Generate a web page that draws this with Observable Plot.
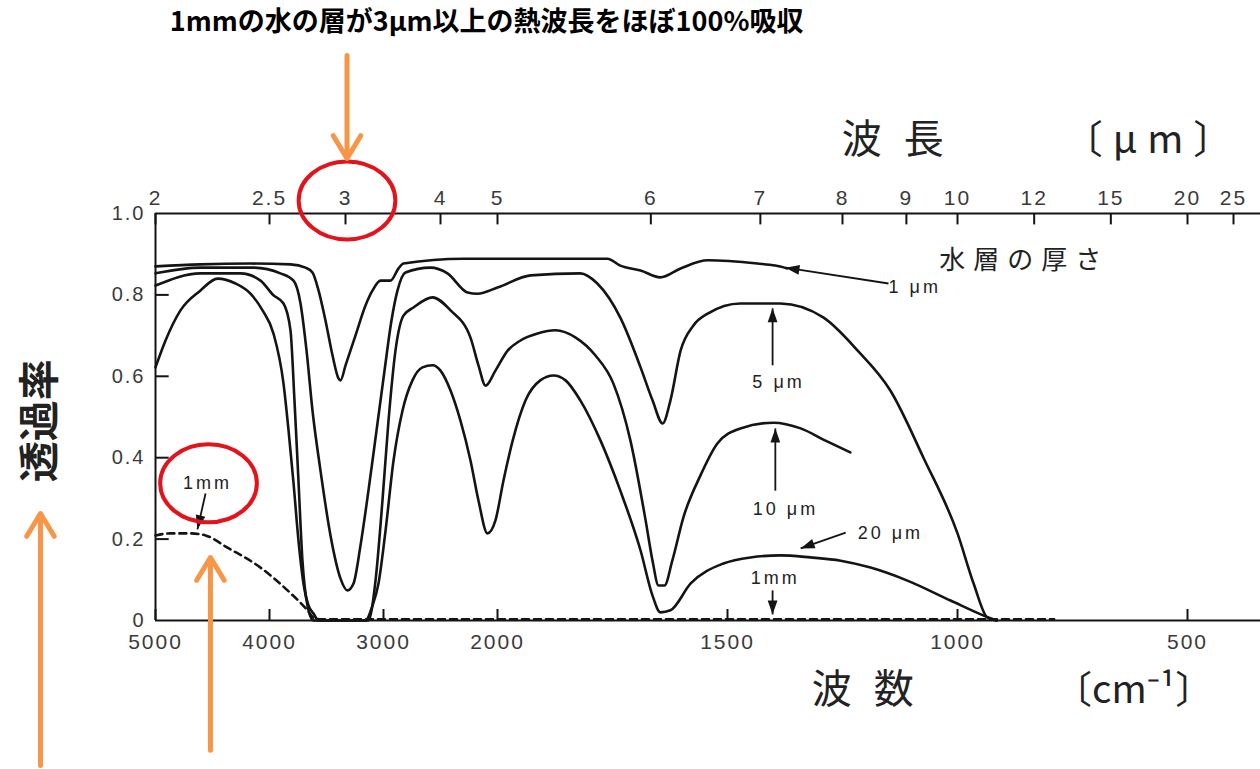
<!DOCTYPE html>
<html><head><meta charset="utf-8">
<script src="https://cdn.jsdelivr.net/npm/d3@7"></script>
<script src="https://cdn.jsdelivr.net/npm/@observablehq/plot@0.6"></script>
<style>
html,body{margin:0;padding:0;background:#fff;}
#chart svg{display:block;}
g[aria-label="x-axis tick label"] text, g[aria-label="y-axis tick label"] text{letter-spacing:2px;}
g[font-size="18"] text, g[font-size="18px"] text{letter-spacing:3px;}
g[font-size="26"] text, g[font-size="26px"] text{letter-spacing:8px;}
g[font-size="40"] text, g[font-size="40px"] text{letter-spacing:22px;}
g[font-size="39"] text, g[font-size="39px"] text{letter-spacing:10px;}
</style></head><body><div id="chart"></div>
<script>
// ---- tick values ----
const wnTicks = [5000, 4000, 3000, 2000, 1500, 1000, 500];          // 波数 cm-1
const umTicks = [2, 2.5, 3, 4, 5, 6, 7, 8, 9, 10, 12, 15, 20, 25];  // 波長 μm
const yTicks = [0, 0.2, 0.4, 0.6, 0.8, 1.0];

// ---- series (wavenumber cm-1, transmittance) ----
const wn1um = [5000,4605,4167,3816,3684,3623,3570,3509,3447,3395,3377,3333,3246,3158,3096,3026,2939,2868,2825,2298,1907,1761,1733,1689,1646,1602,1543,1435,1396,1370];
const t1um  = [0.870,0.875,0.877,0.875,0.867,0.855,0.811,0.737,0.651,0.595,0.590,0.627,0.700,0.774,0.811,0.835,0.835,0.865,0.877,0.889,0.889,0.889,0.872,0.860,0.843,0.865,0.885,0.877,0.872,0.865];

const wn5um = [5000,4605,4140,3904,3789,3728,3675,3623,3553,3465,3377,3316,3263,3202,3132,3061,2991,2930,2877,2807,2588,2439,2263,2175,2000,1928,1820,1783,1733,1689,1663,1641,1624,1602,1574,1543,1472,1385,1291,1217,1146,1074,1000,965,935,915];
const t5um  = [0.853,0.867,0.867,0.853,0.835,0.779,0.663,0.516,0.369,0.209,0.103,0.074,0.091,0.184,0.319,0.467,0.614,0.737,0.811,0.855,0.867,0.853,0.806,0.803,0.818,0.848,0.853,0.828,0.744,0.622,0.541,0.484,0.541,0.663,0.725,0.754,0.779,0.779,0.744,0.663,0.565,0.400,0.214,0.091,0.007,0];

const wn10um = [5000,4605,4254,4079,3965,3877,3816,3781,3746,3711,3667,3614,3132,3070,3009,2956,2895,2825,2737,2570,2412,2237,2167,2105,2018,1978,1950,1913,1874,1830,1787,1748,1711,1678,1663,1650,1637,1620,1596,1559,1522,1472,1400,1341,1287,1233];
const t10um  = [0.823,0.853,0.853,0.835,0.799,0.779,0.713,0.541,0.344,0.147,0.037,0,0,0.098,0.295,0.491,0.663,0.749,0.769,0.794,0.762,0.695,0.627,0.577,0.614,0.663,0.688,0.705,0.713,0.695,0.651,0.582,0.442,0.246,0.147,0.086,0.086,0.147,0.253,0.356,0.435,0.472,0.486,0.472,0.442,0.413];

const wn20um = [5000,4912,4781,4605,4456,4298,4167,4061,3965,3877,3833,3789,3746,3702,3658,3614,3570,3158,3096,3044,2982,2912,2833,2746,2658,2570,2500,2412,2325,2237,2167,2088,2018,1987,1967,1939,1907,1878,1852,1820,1776,1733,1689,1663,1646,1624,1580,1509,1450,1385,1320,1254,1189,1109,1015,943,915];
const t20um  = [0.622,0.688,0.762,0.811,0.840,0.828,0.803,0.762,0.705,0.582,0.467,0.337,0.197,0.091,0.037,0.017,0,0,0.037,0.091,0.221,0.393,0.516,0.590,0.622,0.627,0.614,0.565,0.491,0.393,0.295,0.214,0.246,0.344,0.442,0.541,0.590,0.602,0.590,0.541,0.442,0.319,0.172,0.061,0.020,0.025,0.091,0.140,0.155,0.160,0.155,0.147,0.130,0.098,0.049,0.012,0];

const wn1mm = [5000,4868,4693,4561,4368,4079,3842,3667,3614,3560,790];
const t1mm  = [0.209,0.214,0.214,0.209,0.179,0.130,0.074,0.025,0.007,0.003,0.003];

// ---- annotations ----
const noteText = ["1 μm", "5 μm", "10 μm", "20 μm", "1mm", "1mm"];
const noteX = [1093, 1389, 1374, 1146, 1396, 4544];
const noteY = [0.818, 0.585, 0.273, 0.214, 0.103, 0.337];
const ptrX1 = [1150, 1402, 1396, 1243, 1402, 4561];
const ptrY1 = [0.828, 0.627, 0.319, 0.216, 0.074, 0.312];
const ptrX2 = [1374, 1402, 1396, 1341, 1402, 4632];
const ptrY2 = [0.867, 0.767, 0.472, 0.177, 0.015, 0.224];
const ptrRot = [-81, 0, 0, -110, 180, -167];

const circleX = [3320, 4535];
const circleY = [1.032, 0.337];

const orangeX = [3320, 6009, 4518];
const orangeY1 = [1.388, -0.356, -0.319];
const orangeY2 = [1.135, 0.263, 0.155];

// ---- build tables ----
const toRows = (name, xs, ys) => xs.map((x, i) => ({series: name, wn: x, t: ys[i]}));
const solid = [
  ...toRows("1μm", wn1um, t1um),
  ...toRows("5μm", wn5um, t5um),
  ...toRows("10μm", wn10um, t10um),
  ...toRows("20μm", wn20um, t20um)
];
const dashed = toRows("1mm", wn1mm, t1mm);
const notes = noteText.map((s, i) => ({s, x: noteX[i], y: noteY[i]}));
const ptrs = ptrX1.map((x, i) => ({x1: x, y1: ptrY1[i], x2: ptrX2[i], y2: ptrY2[i], rot: ptrRot[i]}));
const circles = circleX.map((x, i) => ({x, y: circleY[i]}));
const oranges = orangeX.map((x, i) => ({x, y1: orangeY1[i], y2: orangeY2[i]}));

// custom symbols
const ellipse = {draw(c, size) {
  const r = Math.sqrt(size / Math.PI), a = r * 1.24, b = r, k = 0.5523;
  c.moveTo(a, 0);
  c.bezierCurveTo(a, k * b, k * a, b, 0, b);
  c.bezierCurveTo(-k * a, b, -a, k * b, -a, 0);
  c.bezierCurveTo(-a, -k * b, -k * a, -b, 0, -b);
  c.bezierCurveTo(k * a, -b, a, -k * b, a, 0);
  c.closePath();
}};
const head = {draw(c, size) {
  const r = Math.sqrt(size / Math.PI);
  c.moveTo(0, 0);
  c.lineTo(-0.7 * r, 2 * r);
  c.lineTo(0.7 * r, 2 * r);
  c.closePath();
}};

const SANS = "'Liberation Sans', Arial, 'DejaVu Sans', sans-serif";
const CJK = "'Noto Sans CJK JP', 'Noto Sans CJK SC', sans-serif";
const INK = "#141414";

const chart = Plot.plot({
  width: 1260, height: 769,
  marginLeft: 155, marginRight: 0, marginTop: 213, marginBottom: 149,
  x: {type: "linear", domain: [5000, 2000, 340], range: [155, 497, 1260.6]},
  y: {domain: [0, 1], range: [620, 213]},
  style: {background: "#fff", fontFamily: SANS, overflow: "visible"},
  marks: [
    // frame
    Plot.ruleY([0, 1], {stroke: INK, strokeWidth: 2}),
    Plot.ruleX([5000], {y1: 0, y2: 1, stroke: INK, strokeWidth: 2}),
    // inward ticks
    Plot.ruleX(wnTicks, {y1: 0, y2: 0.027, stroke: INK, strokeWidth: 2}),
    Plot.ruleX(umTicks.map(u => 1e4 / u), {y1: 1, y2: 0.972, stroke: INK, strokeWidth: 2}),
    Plot.ruleY(yTicks.slice(1, 5), {x1: 5000, x2: 4880, stroke: INK, strokeWidth: 2}),
    // axes labels
    Plot.axisX({anchor: "bottom", ticks: wnTicks, tickFormat: d => String(d), tickSize: 0, tickPadding: 14, fontSize: 21, color: "#3a3a3a", label: null}),
    Plot.axisX({anchor: "top", ticks: umTicks.map(u => 1e4 / u), tickFormat: d => String(+(1e4 / d).toPrecision(3)), tickSize: 0, tickPadding: 9, fontSize: 21, color: "#3a3a3a", label: null}),
    Plot.axisY({ticks: yTicks, tickFormat: d => d === 0 ? "0" : d.toFixed(1), tickSize: 0, tickPadding: 10, fontSize: 20, color: "#3a3a3a", label: null}),
    // spectra
    Plot.line(solid, {x: "wn", y: "t", z: "series", stroke: INK, strokeWidth: 2.6, curve: "monotone-x"}),
    Plot.line(dashed, {x: "wn", y: "t", stroke: INK, strokeWidth: 2.6, strokeDasharray: "7,5", curve: "monotone-x"}),
    // annotation pointers
    Plot.link(ptrs, {x1: "x1", y1: "y1", x2: "x2", y2: "y2", stroke: INK, strokeWidth: 1.8}),
    Plot.dot(ptrs, {x: "x2", y: "y2", symbol: head, r: 7, fill: INK, stroke: "none", rotate: "rot"}),
    Plot.text(notes, {x: "x", y: "y", text: "s", fontSize: 18, fill: "#222", fontFamily: SANS}),
    Plot.text(["水層の厚さ"], {x: 855, y: 0.885, fontSize: 26, fill: "#222", fontFamily: CJK}),
    // axis titles
    Plot.text(["波長"], {x: 1117, y: 1.179, fontSize: 40, fill: "#222", fontFamily: CJK}),
    Plot.text(["〔μm〕"], {x: 575, y: 1.179, fontSize: 39, fill: "#222", fontFamily: CJK}),
    Plot.text(["波数"], {x: 1182, y: -0.172, fontSize: 40, fill: "#222", fontFamily: CJK}),
    Plot.text(["〔cm⁻¹〕"], {x: 617, y: -0.172, fontSize: 38, fill: "#222", fontFamily: CJK}),
    Plot.text(["透過率"], {x: 6009, y: 0.491, rotate: -90, fontSize: 41, fontWeight: 700, fill: "#222", fontFamily: CJK}),
    // title
    Plot.text(["1mmの水の層が3μm以上の熱波長をほぼ100%吸収"], {x: 2096, y: 1.469, fontSize: 27, fontWeight: 700, fill: "#000", fontFamily: CJK}),
    // highlights
    Plot.dot(circles, {x: "x", y: "y", symbol: ellipse, r: 39, stroke: "#e3131b", strokeWidth: 4, fill: "none"}),
    Plot.arrow(oranges, {x: "x", y1: "y1", y2: "y2", stroke: "#f79646", strokeWidth: 5, headLength: 8, headAngle: 62})
  ]
});
document.getElementById("chart").appendChild(chart);
</script></body></html>
